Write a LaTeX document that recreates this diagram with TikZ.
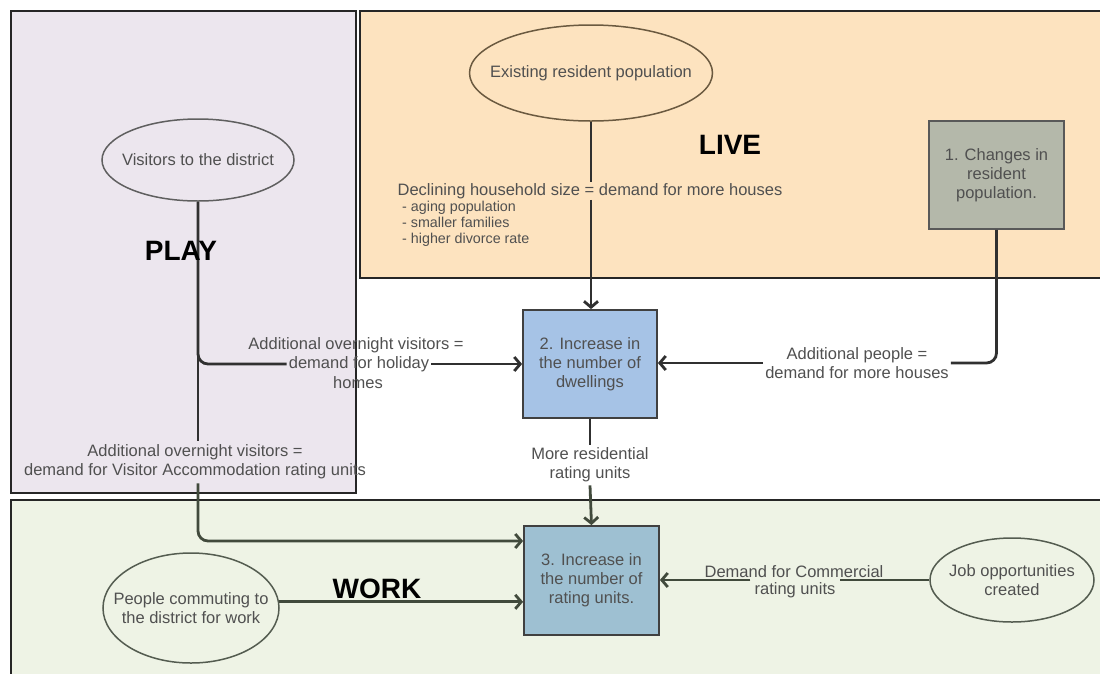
\documentclass[tikz,border=0pt]{standalone}
\usepackage{fontspec}
\setmainfont{Liberation Sans}
\usetikzlibrary{arrows.meta,shapes.geometric}

\definecolor{playbg}{HTML}{ECE6EE}
\definecolor{livebg}{HTML}{FDE3BF}
\definecolor{workbg}{HTML}{EEF3E5}
\definecolor{txt}{HTML}{505050}
\definecolor{boxone}{HTML}{B4B8AA}
\definecolor{boxtwo}{HTML}{A6C3E6}
\definecolor{boxthree}{HTML}{9EC0D2}
\definecolor{wire}{HTML}{303030}
\definecolor{wirework}{HTML}{414A3C}
\definecolor{rim}{HTML}{5F5F5F}
\definecolor{rimlive}{HTML}{6B5A40}

% zero-width text so an ellipse keeps the size it is given
\newcommand{\zw}[1]{\makebox[0pt]{#1}}

\tikzset{
  zone/.style={draw=black!85, line width=1.6pt},
  zonetitle/.style={font=\bfseries\fontsize{28}{30}\selectfont, text=black, inner sep=0pt},
  oval/.style={ellipse, draw=rim, line width=1.5pt, text=txt, align=center,
    inner sep=0pt, font=\fontsize{16.5}{19}\selectfont},
  stage/.style={rectangle, draw=black!75, line width=1.8pt, text=txt, align=center,
    inner sep=0pt, font=\fontsize{16.5}{19}\selectfont},
  lbl/.style={text=txt, align=center, inner sep=2pt, font=\fontsize{16.5}{19}\selectfont},
  bullets/.style={text=txt, align=left, inner sep=0pt, font=\fontsize{14.3}{16}\selectfont},
  link/.style={draw=wire, line width=2.8pt, rounded corners=10pt},
  flow/.style={link, -{Straight Barb[length=6pt,width=14pt]}},
}

\begin{document}
\begin{tikzpicture}[x=1pt,y=-1pt]
\useasboundingbox (0,0) rectangle (1100,673);
\clip (0,0) rectangle (1100,673);

% ---- zones ----
\node[zone, fill=workbg, anchor=north west, minimum width=1110, minimum height=190,
      inner sep=0pt] (workzone) at (10,499) {};
\node[zone, fill=livebg, anchor=north west, minimum width=760, minimum height=267,
      inner sep=0pt] (livezone) at (359,10) {};
\node[zone, fill=playbg, anchor=north west, minimum width=345, minimum height=482,
      inner sep=0pt] (playzone) at (10,10) {};

% ---- sources ----
\node[oval, minimum width=192, minimum height=82] (vis) at (198,160)
  {\zw{Visitors to the district}};
\node[oval, draw=rimlive, minimum width=243, minimum height=96] (exist) at (591,73)
  {\zw{Existing resident population}};
\node[oval, draw=wirework!90, minimum width=176, minimum height=110] (comm) at (191,608)
  {\zw{People commuting to}\\\zw{the district for work}};
\node[oval, draw=wirework!90, minimum width=164, minimum height=84] (job) at (1012,580)
  {\zw{Job opportunities}\\\zw{created}};

% ---- stages ----
\node[stage, fill=boxone, draw=black!65, minimum width=135, minimum height=108] (b1)
  at (996.5,175) {1. Changes in\\resident\\population.};
\node[stage, fill=boxtwo, minimum width=134, minimum height=108] (b2)
  at (590,364) {2. Increase in\\the number of\\dwellings};
\node[stage, fill=boxthree, minimum width=135, minimum height=109] (b3)
  at (591.5,580.5) {3. Increase in\\the number of\\rating units.};

% ---- labels ----
\node[lbl, inner sep=1pt] (dec) at (590,191)
  {Declining household size = demand for more houses};
\node[bullets, anchor=north west] (bul) at (402,201)
  {- aging population\\- smaller families\\- higher divorce rate};

\node[lbl, inner sep=0pt] (htop) at (356,345) {Additional overnight visitors =};
\node[lbl] (hmid) at (359,364) {demand for holiday};
\node[lbl, inner sep=0pt] (hbot) at (358,383) {homes};

\node[lbl] (addp) at (857,363) {Additional people =\\demand for more houses};
\node[lbl, inner sep=3pt] (mru) at (590,465) {More residential\\rating units};
\node[lbl, inner sep=4pt] (vacc) at (195,462)
  {Additional overnight visitors =\\demand for Visitor Accommodation rating units};
\node[lbl, inner sep=0pt, anchor=south] (comA) at (794,578) {Demand for Commercial};
\node[lbl, inner sep=4pt] (comB) at (795,590) {rating units};

% ---- connectors ----
\draw[link] (exist.south) -- (dec.north -| exist.south);
\draw[flow] (dec.south -| exist.south) -- (b2.north -| exist.south);

\draw[link] (vis.south) |- (hmid.west);
\draw[flow] (hmid.east) -- (hmid.east -| b2.west);

\draw[link] (b1.south) |- (addp.east);
\draw[flow] (addp.west) -- (addp.west -| b2.east);

\draw[link] (vis.south) -- (vis.south |- vacc.north);
\draw[flow, draw=wirework] (vis.south |- vacc.south) |- ([yshift=39.5pt]b3.west);

\draw[link] (b2.south) -- (mru.north);
\draw[flow, draw=wirework] (mru.south) -- (b3.north);

\draw[flow, draw=wirework] (comm.4) -- (comm.4 -| b3.west);

\draw[link, draw=wirework] (job.west) -- (job.west -| comB.east);
\draw[flow, draw=wirework] (job.west -| comB.west) -- (job.west -| b3.east);

% ---- zone titles on top ----
\node[zonetitle] (playtitle) at (181,251) {PLAY};
\node[zonetitle] (livetitle) at (730,145) {LIVE};
\node[zonetitle] (worktitle) at (377,589) {WORK};
\end{tikzpicture}
\end{document}
